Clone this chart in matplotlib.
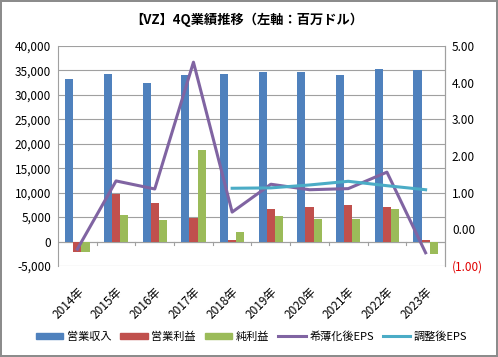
import matplotlib.pyplot as plt
import numpy as np
from matplotlib.patches import Patch
from matplotlib.lines import Line2D

plt.rcParams['font.family'] = ['Noto Sans CJK JP', 'DejaVu Sans']

years = ['2014年', '2015年', '2016年', '2017年', '2018年', '2019年', '2020年', '2021年', '2022年', '2023年']
revenue = [33192, 34254, 32340, 34043, 34281, 34776, 34692, 34067, 35251, 35130]
op_income = [-2150, 9700, 7800, 4900, 400, 6600, 7000, 7400, 7000, 400]
net_income = [-2150, 5400, 4500, 18700, 1900, 5200, 4600, 4600, 6600, -2600]
eps_diluted = [-0.54, 1.32, 1.10, 4.56, 0.47, 1.23, 1.08, 1.11, 1.56, -0.64]
eps_adj = [None, None, None, None, 1.12, 1.13, 1.21, 1.31, 1.19, 1.08]

c_rev = '#4F81BD'
c_op = '#C0504D'
c_net = '#9BBB59'
c_eps = '#8064A2'
c_adj = '#4BACC6'

fig = plt.figure(figsize=(4.98, 3.57), dpi=100)
fig.patch.set_edgecolor('#8c8c8c')
fig.patch.set_linewidth(1.5)
ax = fig.add_axes([0.1165, 0.255, 0.777, 0.616])

x = np.arange(len(years))
w = 0.21
ax.bar(x - w, revenue, w, color=c_rev, zorder=2)
ax.bar(x, op_income, w, color=c_op, zorder=2)
ax.bar(x + w, net_income, w, color=c_net, zorder=2)

ax.set_xlim(-0.5, len(years) - 0.5)
ax.set_ylim(-5000, 40000)
ax.set_yticks(range(-5000, 40001, 5000))
ax.set_yticklabels([f'{v:,}' for v in range(-5000, 40001, 5000)], fontsize=8.5)
ax.yaxis.grid(True, color='#a0a0a0', linewidth=0.8, zorder=0)
ax.tick_params(axis='y', length=0, pad=5)
ax.axhline(0, color='#a0a0a0', linewidth=0.8, zorder=1)
for b in np.arange(0.5, len(years) - 0.5, 1):
    ax.plot([b, b], [0, -700], color='#a0a0a0', linewidth=0.8, zorder=1, clip_on=False)
ax.set_xticks(x)
ax.set_xticklabels(years, rotation=45, ha='right', rotation_mode='anchor', fontsize=8.5)
ax.tick_params(axis='x', length=0, pad=14)
for s in ['top', 'bottom']:
    ax.spines[s].set_visible(False)
for s in ['left', 'right']:
    ax.spines[s].set_color('#a0a0a0')

ax2 = ax.twinx()
ax2.set_position(ax.get_position())
ax2.plot(x, eps_diluted, color=c_eps, linewidth=2.2, zorder=3)
adj_x = [xi for xi, v in zip(x, eps_adj) if v is not None]
adj_y = [v for v in eps_adj if v is not None]
ax2.plot(adj_x, adj_y, color=c_adj, linewidth=2.2, zorder=3)
ax2.set_ylim(-1, 5)
ax2.set_yticks(range(-1, 6))
ax2.set_yticklabels(['(1.00)', '0.00', '1.00', '2.00', '3.00', '4.00', '5.00'], fontsize=8.5)
ax2.get_yticklabels()[0].set_color('#e00000')
ax2.tick_params(axis='y', length=0, pad=5)
for s in ['top', 'bottom', 'left']:
    ax2.spines[s].set_visible(False)
ax2.spines['right'].set_color('#a0a0a0')

fig.text(0.495, 0.945, '【VZ】4Q業績推移（左軸：百万ドル）', ha='center', va='center',
         fontsize=9.5, fontweight='bold')

handles = [Patch(color=c_rev), Patch(color=c_op), Patch(color=c_net),
           Line2D([], [], color=c_eps, linewidth=2.2), Line2D([], [], color=c_adj, linewidth=2.2)]
labels = ['営業収入', '営業利益', '純利益', '希薄化後EPS', '調整後EPS']
fig.legend(handles, labels, loc='center', bbox_to_anchor=(0.505, 0.058), ncol=5, frameon=False,
           fontsize=8, handlelength=2.5, handleheight=0.5, columnspacing=0.8, handletextpad=0.3)

fig.savefig('out.png', dpi=100)
